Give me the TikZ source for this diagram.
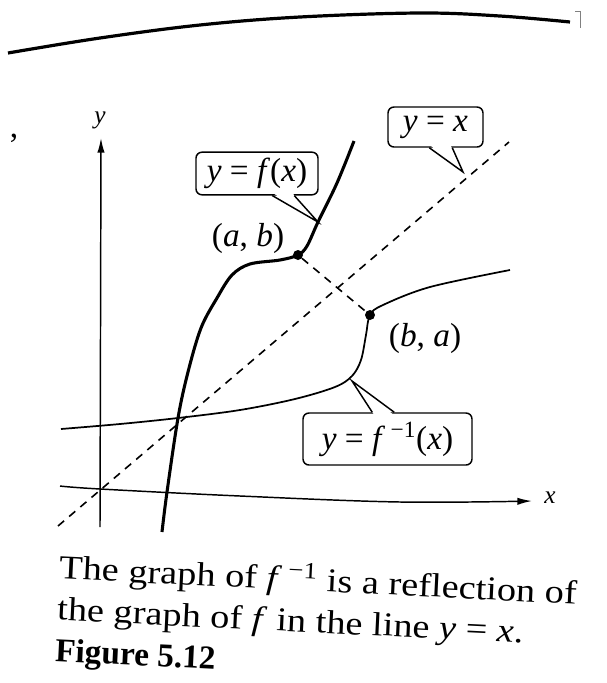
\documentclass[tikz,border=0pt]{standalone}
\usepackage{fontspec}
\usepackage{graphicx}
\setmainfont{Liberation Serif}
\usetikzlibrary{arrows.meta,calc}
\newcommand\lblfont{\fontsize{25}{29}\selectfont}
\newcommand\capfont{\fontsize{25}{31}\selectfont}
\newcommand\axfont{\fontsize{19}{22}\selectfont}
\newcommand\iv[1]{\textit{#1}}
\newcommand\wide[1]{\scalebox{1.15}[1]{#1}}
\tikzset{
  lbl/.style={draw, line width=1.1pt, rounded corners=4.5pt, fill=white, inner sep=0pt, font=\lblfont},
  ptr/.style={line width=1.1pt, line join=miter},
  axis/.style={line width=1.1pt, -{Latex[length=11pt,width=5.5pt]}},
  fcurve/.style={line width=2.3pt},
  icurve/.style={line width=1.3pt},
  diag/.style={line width=1.2pt, dash pattern=on 6pt off 5pt},
  dot/.style={circle, fill=black, inner sep=0pt, minimum size=7.5pt},
  txt/.style={inner sep=0pt},
}
\begin{document}
\begin{tikzpicture}[x=0.75pt,y=-0.75pt]
\useasboundingbox (0,0) rectangle (607,683);
\fill[white] (0,0) rectangle (607,683);
% page top curve and stray marks
\draw[line width=2.4pt] plot[smooth, tension=0.6] coordinates {(8,53) (100,38) (200,25) (300,17) (420,13) (500,16) (570,22)};
\draw[gray, line width=0.6pt] (575,11) -- (580,11) -- (580,28);
\node[txt, font=\capfont] (comma) at (14,138) {,};
% axes
\coordinate (yb) at (100,527);
\coordinate (yt) at (101,138);
\draw[axis] (yb) -- (yt);
\node[txt, font=\axfont] (ylab) at (100,120) {\iv{y}};
\draw[axis] plot[smooth, tension=0.6] coordinates {(60,486) (100,489) (240,496) (400,502) (532,501)};
\node[txt, font=\axfont] (xlab) at (550,498) {\iv{x}};
% line y = x
\coordinate (d1) at (58,526);
\coordinate (d2) at (509,142);
\draw[diag] (d1) -- (d2);
% points
\node[dot] (ab) at (298,255) {};
\node[dot] (ba) at (370,315) {};
\draw[diag] (ab) -- (ba);
% f curve
\draw[fcurve] plot[smooth, tension=0.55] coordinates {(162,532) (167,492) (178,418) (188,372) (201,328) (217,298) (232,275) (250,264) (280,260) (298,255) (307,246) (318,222) (337,183) (354,141)};
% f inverse curve
\draw[icurve] plot[smooth, tension=0.55] coordinates {(61,429) (120,424) (178,418) (240,410) (295,399) (335,387) (352,376) (361,360) (366,335) (370,315) (383,305) (430,287) (510,270)};
% labels
\node[txt, font=\lblfont] (labab) at (248,238) {(\iv{a}, \iv{b})};
\node[txt, font=\lblfont] (labba) at (425,338) {(\iv{b}, \iv{a})};
% callout y = f(x)
\node[lbl, minimum width=91.5pt, minimum height=32pt] (lblf) at (257,173.5) {\iv{y} = \iv{f}(\iv{x})};
\coordinate (tf) at (318,222);
\fill[white] ($(lblf.south west)+(78.5,-2)$) -- (tf) -- ($(lblf.south west)+(97.5,-2)$) -- cycle;
\draw[ptr] ($(lblf.south west)+(77,0)$) -- (tf) -- ($(lblf.south west)+(99,0)$);
% callout y = x
\node[lbl, minimum width=71.25pt, minimum height=30pt] (lblx) at (435.5,127) {\iv{y} = \iv{x}};
\coordinate (tx) at (463,172);
\fill[white] ($(lblx.south west)+(43.5,-2)$) -- (tx) -- ($(lblx.south west)+(63.5,-2)$) -- cycle;
\draw[ptr] ($(lblx.south west)+(42,0)$) -- (tx) -- ($(lblx.south west)+(65,0)$);
% callout y = f^{-1}(x)
\node[lbl, minimum width=126.75pt, minimum height=39pt] (lblinv) at (387.5,439) {\iv{y} = \iv{f}\,\textsuperscript{−1}(\iv{x})};
\coordinate (ti) at (352,381);
\fill[white] ($(lblinv.north west)+(71.5,2)$) -- (ti) -- ($(lblinv.north west)+(90.5,2)$) -- cycle;
\draw[ptr] ($(lblinv.north west)+(70,0)$) -- (ti) -- ($(lblinv.north west)+(92,0)$);
% caption
\node[txt, font=\capfont, align=left, anchor=north west, rotate=-2.8] (cap) at (60,551)
  {\wide{The graph of \iv{f}\,\textsuperscript{−1} is a reflection of}\\
   \wide{the graph of \iv{f} in the line \iv{y} = \iv{x}.}\\
   \textbf{Figure 5.12}};
\end{tikzpicture}
\end{document}
